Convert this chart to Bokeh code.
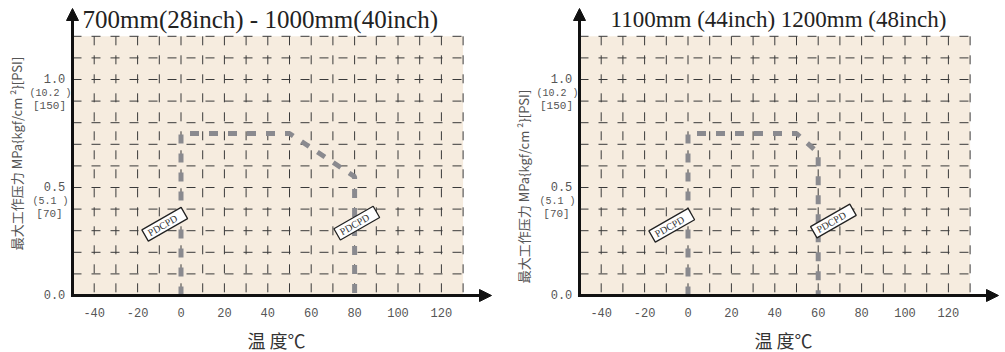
import math
from bokeh.plotting import figure
from bokeh.models import Range1d, Arrow, NormalHead
from bokeh.layouts import row
from bokeh.embed import file_html
from bokeh.resources import INLINE
from bokeh.core.properties import value

# ---------------- data ----------------
x_ticks = [-40, -20, 0, 20, 40, 60, 80, 100, 120]
x_tick_labels = ["-40", "-20", "0", "20", "40", "60", "80", "100", "120"]
y_ticks = [0.0, 0.5, 1.0]
y_tick_labels = ["0.0", "0.5", "1.0"]
kgf_ticks = [0.5, 1.0]
kgf_labels = ["(5.1 )", "(10.2 )"]
psi_labels = ["[70]", "[150]"]
x_grid = [-40, -30, -20, -10, 0, 10, 20, 30, 40, 50, 60, 70, 80, 90, 100, 110, 120, 130]
y_grid = [0.1, 0.2, 0.3, 0.4, 0.5, 0.6, 0.7, 0.8, 0.9, 1.0, 1.1, 1.2]

title_small = "700mm(28inch) - 1000mm(40inch)"
title_large = "1100mm (44inch) 1200mm (48inch)"
temp_small = [0, 0, 50, 80, 80]
pressure_small = [0, 0.75, 0.75, 0.55, 0]
temp_large = [0, 0, 50, 60, 60]
pressure_large = [0, 0.75, 0.75, 0.66, 0]
tag_text = ["PDCPD", "PDCPD"]
tag_small_x = [-7.5, 81]
tag_small_y = [0.33, 0.335]
tag_large_x = [-7.5, 67]
tag_large_y = [0.325, 0.345]
y_label = "最大工作压力 MPa{kgf/cm ²}[PSI]"
x_label = "温 度℃"

X_MIN, X_MAX, Y_MAX = -50, 130, 1.2

# ---------------- layout constants ----------------
H = 352
KX = 2.17      # px per degree
KY = 216.0     # px per MPa
AXIS_Y_PX = 295


def make_chart(width, axis_px, title, title_px, title_size, temps, pressures,
               tag_x, tag_y, ylabel_center_px):
    x0 = X_MIN - axis_px / KX
    x1 = x0 + width / KX
    y0 = -(H - AXIS_Y_PX) / KY
    y1 = AXIS_Y_PX / KY
    p = figure(width=width, height=H, x_range=Range1d(x0, x1), y_range=Range1d(y0, y1),
               x_axis_type=None, y_axis_type=None, toolbar_location=None,
               output_backend="svg", min_border=0, outline_line_color=None)
    p.background_fill_color = "white"
    p.border_fill_color = "white"
    p.xgrid.visible = False
    p.ygrid.visible = False

    # plot background
    p.quad(left=[X_MIN], right=[X_MAX], bottom=[0], top=[Y_MAX],
           fill_color="#f6ecdf", line_color=None)
    # dashed grid
    p.segment(x0=x_grid, y0=[Y_MAX] * len(x_grid), x1=x_grid, y1=[0] * len(x_grid),
              line_color="#3a3a3a", line_width=1.0, line_dash="9 10")
    p.segment(x0=[X_MIN] * len(y_grid), y0=y_grid, x1=[X_MAX] * len(y_grid), y1=y_grid,
              line_color="#3a3a3a", line_width=1.0, line_dash="9 10")

    # PDCPD curve
    p.line(temps, pressures, line_color="#8a8a8f", line_width=5, line_dash="9 10")

    # tags
    p.text(x=tag_x, y=tag_y, text=tag_text, angle=0.52, text_align="center",
           text_baseline="middle", text_font=value("Liberation Serif"),
           text_font_size="10px", text_color="#333",
           background_fill_color="white", border_line_color="#222",
           border_line_width=1.3, padding=dict(top=1, right=9, bottom=1, left=4))

    # axes with arrows
    p.add_layout(Arrow(end=NormalHead(size=12, fill_color="#111", line_color="#111"),
                       x_start=X_MIN, y_start=0, x_end=X_MIN, y_end=(AXIS_Y_PX - 8) / KY,
                       line_width=3, line_color="#111"))
    p.add_layout(Arrow(end=NormalHead(size=12, fill_color="#111", line_color="#111"),
                       x_start=X_MIN - 0.7, y_start=0, x_end=X_MIN + 419 / KX, y_end=0,
                       line_width=3, line_color="#111"))

    # x tick labels
    p.text(x=x_ticks, y=[-17 / KY] * len(x_ticks), text=x_tick_labels,
           text_align="center", text_baseline="middle",
           text_font=value("Liberation Mono"), text_font_size="12px", text_color="#555")
    # y tick labels
    lx = X_MIN - 18 / KX
    p.text(x=[lx] * len(y_ticks), y=[t + 1 / KY for t in y_ticks], text=y_tick_labels,
           text_align="center", text_baseline="middle",
           text_font=value("Liberation Mono"), text_font_size="12px", text_color="#555")
    p.text(x=[lx - 4 / KX] * len(kgf_ticks), y=[t - 13.5 / KY for t in kgf_ticks], text=kgf_labels,
           text_align="center", text_baseline="middle",
           text_font=value("Liberation Mono"), text_font_size="10px", text_color="#555")
    p.text(x=[lx - 5 / KX] * len(kgf_ticks), y=[t - 26.5 / KY for t in kgf_ticks], text=psi_labels,
           text_align="center", text_baseline="middle",
           text_font=value("Liberation Mono"), text_font_size="11px", text_color="#555")

    # axis titles
    p.text(x=[x0 + (axis_px - 56) / KX], y=[(AXIS_Y_PX - ylabel_center_px) / KY], text=[y_label],
           angle=math.pi / 2, text_align="center", text_baseline="middle",
           text_font=value("Noto Sans CJK SC"), text_font_size="13px", text_color="#555")
    p.text(x=[44], y=[-44 / KY], text=[x_label], text_align="center", text_baseline="middle",
           text_font=value("Noto Sans CJK SC"), text_font_size="18px", text_color="#333")

    # chart title
    p.text(x=[x0 + title_px / KX], y=[(AXIS_Y_PX - 19) / KY], text=[title],
           text_align="left", text_baseline="middle",
           text_font=value("Liberation Serif"), text_font_size=f"{title_size}px",
           text_color="#222")
    return p


p1 = make_chart(502, 72, title_small, 82, 25, temp_small, pressure_small,
                tag_small_x, tag_small_y, 153)
p2 = make_chart(503, 77, title_large, 108, 23, temp_large, pressure_large,
                tag_large_x, tag_large_y, 186)

layout = row(p1, p2, spacing=0)
open("out.html", "w").write(file_html(layout, INLINE))
